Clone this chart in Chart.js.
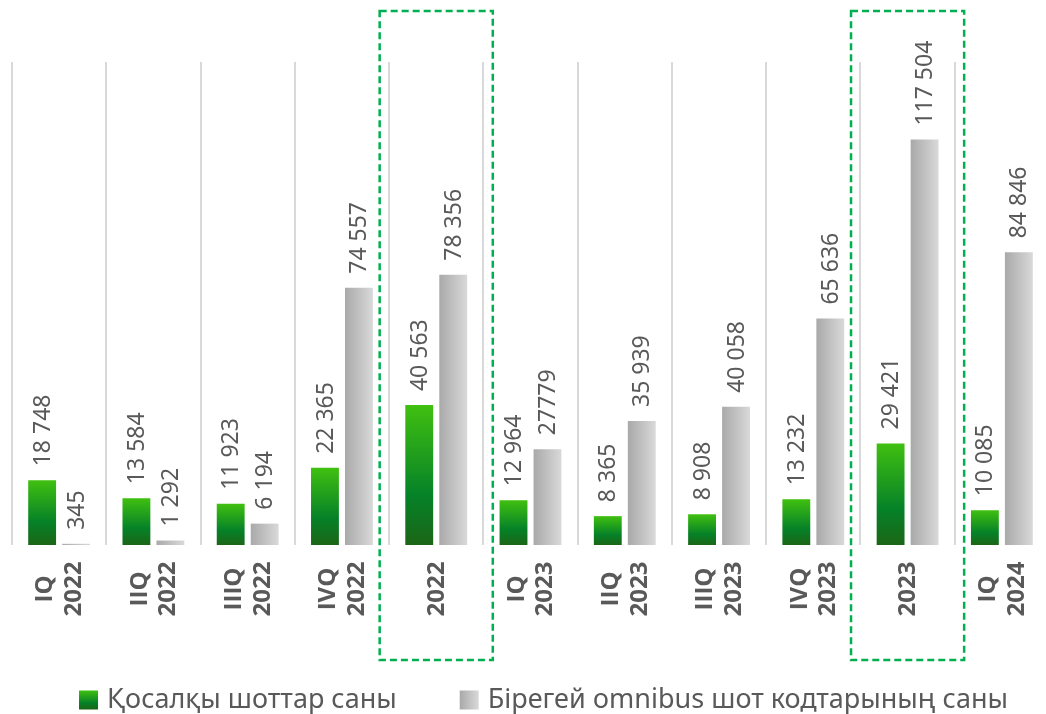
<!DOCTYPE html>
<html>
<head>
<meta charset="utf-8">
<script src="https://cdn.jsdelivr.net/npm/chart.js@4.4.1/dist/chart.umd.min.js"></script>
<style>
    html, body { margin: 0; padding: 0; background: #fff; overflow: hidden; }
    #wrap { position: relative; width: 1060px; height: 714px; }
</style>
</head>
<body>
<div id="wrap"><canvas id="accountsChart"></canvas></div>
<script>
    //Data
    const periodLabels = [
        ['IQ', '2022'], ['IIQ', '2022'], ['IIIQ', '2022'], ['IVQ', '2022'], ['2022'],
        ['IQ', '2023'], ['IIQ', '2023'], ['IIIQ', '2023'], ['IVQ', '2023'], ['2023'],
        ['IQ', '2024']
    ];
    const subAccounts = [18748, 13584, 11923, 22365, 40563, 12964, 8365, 8908, 13232, 29421, 10085];
    const omnibusCodes = [345, 1292, 6194, 74557, 78356, 27779, 35939, 40058, 65636, 117504, 84846];
    const seriesNames = ['Қосалқы шоттар саны', 'Бірегей omnibus шот кодтарының саны'];
    // yearly totals get a dashed frame
    const yearColumns = [4, 9];
    // [dataset, index] printed without thousands grouping
    const ungroupedLabels = [[1, 5]];

    const textColor = '#595959';
    const fontFamily = "'Noto Sans', 'Open Sans', sans-serif";
    const tickFont = "'Open Sans', 'Noto Sans', sans-serif";
    const catPct = 0.721;
    const barPct = 0.82;

    function groupDigits(n) {
        return String(n).replace(/\B(?=(\d{3})+(?!\d))/g, ' ');
    }

    function greenFill(ctx) {
        const chart = ctx.chart;
        if (!chart.chartArea || ctx.type !== 'data') return '#0b8a25';
        const y = chart.scales.y;
        const top = y.getPixelForValue(ctx.raw);
        const base = y.getPixelForValue(0);
        const g = chart.ctx.createLinearGradient(0, top, 0, base);
        g.addColorStop(0, '#40c010');
        g.addColorStop(0.65, '#058128');
        g.addColorStop(1, '#1c6616');
        return g;
    }

    function greyFill(ctx) {
        const chart = ctx.chart;
        if (!chart.chartArea || ctx.type !== 'data') return '#c0c0c0';
        const x = chart.scales.x;
        const slot = (x.width / periodLabels.length) * catPct / 2;
        const center = x.getPixelForValue(ctx.dataIndex) + slot / 2;
        const half = slot * barPct / 2;
        const g = chart.ctx.createLinearGradient(center - half, 0, center + half, 0);
        g.addColorStop(0, '#a9a9a9');
        g.addColorStop(1, '#d9d9d9');
        return g;
    }

    //labels, frames and legend
    const decor = {
        id: 'decor',
        afterDatasetsDraw(chart) {
            const c = chart.ctx;
            c.save();
            c.fillStyle = textColor;
            c.font = '23px ' + fontFamily;
            c.textAlign = 'left';
            c.textBaseline = 'middle';
            chart.data.datasets.forEach((ds, di) => {
                chart.getDatasetMeta(di).data.forEach((bar, i) => {
                    const plain = ungroupedLabels.some(p => p[0] === di && p[1] === i);
                    const txt = plain ? String(ds.data[i]) : groupDigits(ds.data[i]);
                    c.save();
                    c.translate(bar.x, bar.y - 14);
                    c.rotate(-Math.PI / 2);
                    c.fillText(txt, 0, 1);
                    c.restore();
                });
            });
            c.restore();
        },
        afterDraw(chart) {
            const c = chart.ctx;
            const x = chart.scales.x;
            const step = x.width / periodLabels.length;

            // category labels, rotated
            c.save();
            c.fillStyle = textColor;
            c.font = 'bold 24px ' + tickFont;
            c.textAlign = 'center';
            c.textBaseline = 'middle';
            periodLabels.forEach((lines, i) => {
                const cx = x.getPixelForValue(i);
                const offs = lines.length === 2 ? [-14.5, 14] : [0];
                lines.forEach((t, k) => {
                    c.save();
                    c.translate(cx + offs[k], 589);
                    c.rotate(-Math.PI / 2);
                    c.fillText(t, 0, 1);
                    c.restore();
                });
            });
            c.restore();

            // dashed frames around yearly columns
            c.save();
            c.strokeStyle = '#00b050';
            c.lineWidth = 2.5;
            c.setLineDash([7, 4]);
            yearColumns.forEach(i => {
                const cx = x.getPixelForValue(i);
                const half = step * 0.6;
                c.strokeRect(cx - half, 11, half * 2, 649);
            });
            c.restore();

            // legend
            c.save();
            c.font = '27px ' + fontFamily;
            c.textBaseline = 'middle';
            c.textAlign = 'left';
            const box = 19, gap = 9, spacing = 63, ly = 700;
            const widths = seriesNames.map(s => c.measureText(s).width);
            const total = widths.reduce((a, w) => a + box + gap + w, 0) + spacing;
            let lx = 543.5 - total / 2;
            seriesNames.forEach((name, k) => {
                let g;
                if (k === 0) {
                    g = c.createLinearGradient(0, ly - box / 2, 0, ly + box / 2);
                    g.addColorStop(0, '#40c010');
                    g.addColorStop(0.65, '#058128');
                    g.addColorStop(1, '#1c6616');
                } else {
                    g = c.createLinearGradient(lx, 0, lx + box, 0);
                    g.addColorStop(0, '#a9a9a9');
                    g.addColorStop(1, '#d9d9d9');
                }
                c.fillStyle = g;
                c.fillRect(lx, ly - box / 2, box, box);
                c.fillStyle = textColor;
                c.fillText(name, lx + box + gap, ly);
                lx += box + gap + widths[k] + spacing;
            });
            c.restore();
        }
    };

    new Chart(document.getElementById('accountsChart'), {
        type: 'bar',
        data: {
            labels: periodLabels,
            datasets: [
                {
                    label: seriesNames[0],
                    data: subAccounts,
                    backgroundColor: greenFill,
                    categoryPercentage: catPct,
                    barPercentage: barPct
                },
                {
                    label: seriesNames[1],
                    data: omnibusCodes,
                    backgroundColor: greyFill,
                    categoryPercentage: catPct,
                    barPercentage: barPct
                }
            ]
        },
        options: {
            responsive: true,
            maintainAspectRatio: false,
            animation: false,
            layout: { padding: { left: 12, right: 11, top: 62, bottom: 169 } },
            plugins: {
                legend: { display: false },
                tooltip: { enabled: false }
            },
            scales: {
                x: {
                    offset: true,
                    grid: { offset: true, color: '#d9d9d9', lineWidth: 2, drawTicks: false },
                    border: { display: false },
                    ticks: { display: false }
                },
                y: {
                    display: false,
                    min: 0,
                    max: 140000
                }
            }
        },
        plugins: [decor]
    });
</script>
</body>
</html>
